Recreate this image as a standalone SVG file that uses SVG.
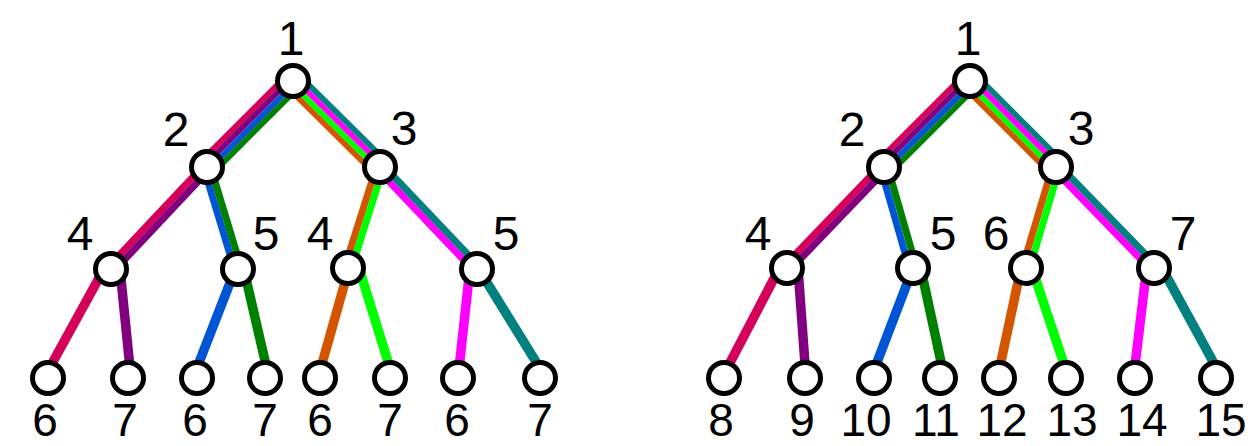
<svg xmlns="http://www.w3.org/2000/svg" width="1248" height="446" viewBox="0 0 1248 446">
<style>
.b4{stroke-width:5.6;fill:none}
.b2{stroke-width:7;fill:none}
.lf{stroke-width:9.5;fill:none}
.pk{stroke:#d4005a}.pu{stroke:#800080}.bl{stroke:#0055d4}.gr{stroke:#008000}
.or{stroke:#d45500}.li{stroke:#00ff00}.mg{stroke:#ff00ff}.te{stroke:#008080}
.nd circle{fill:#fff;stroke:#000;stroke-width:5}
text{font-family:"Liberation Sans",Arial,sans-serif;font-size:48px;fill:#000;text-anchor:middle}
text.lv{font-size:46px}
</style>
<g id="connectors">
<!-- left tree -->
<line class="b4 pk" x1="287.1" y1="75.1" x2="201.1" y2="161.1"/>
<line class="b4 pu" x1="291" y1="79" x2="205" y2="165"/>
<line class="b4 bl" x1="295" y1="83" x2="209" y2="169"/>
<line class="b4 gr" x1="298.9" y1="86.9" x2="212.9" y2="172.9"/>
<line class="b4 or" x1="287.1" y1="86.9" x2="374.1" y2="172.9"/>
<line class="b4 li" x1="291" y1="83" x2="378" y2="169"/>
<line class="b4 mg" x1="295" y1="79" x2="382" y2="165"/>
<line class="b4 te" x1="298.9" y1="75.1" x2="385.9" y2="161.1"/>
<line class="b2 pk" x1="204.5" y1="164.6" x2="108.5" y2="266.6"/>
<line class="b2 pu" x1="209.5" y1="169.4" x2="113.5" y2="271.4"/>
<line class="b2 bl" x1="203.7" y1="168" x2="234.7" y2="270"/>
<line class="b2 gr" x1="210.3" y1="166" x2="241.3" y2="268"/>
<line class="b2 or" x1="376.7" y1="166" x2="344.7" y2="267"/>
<line class="b2 li" x1="383.3" y1="168" x2="351.3" y2="269"/>
<line class="b2 mg" x1="377.5" y1="169.4" x2="474.5" y2="271.4"/>
<line class="b2 te" x1="382.5" y1="164.6" x2="479.5" y2="266.6"/>
<line class="lf pk" x1="104" y1="269" x2="44" y2="378"/>
<line class="lf pu" x1="120" y1="269" x2="131" y2="378"/>
<line class="lf bl" x1="235" y1="270" x2="193" y2="378"/>
<line class="lf gr" x1="244" y1="270" x2="269" y2="378"/>
<line class="lf or" x1="349" y1="268" x2="318" y2="378"/>
<line class="lf li" x1="359" y1="268" x2="393" y2="378"/>
<line class="lf mg" x1="470" y1="268" x2="458" y2="378"/>
<line class="lf te" x1="478" y1="268" x2="546" y2="378"/>
<!-- right tree -->
<line class="b4 pk" x1="964.1" y1="75.1" x2="878.1" y2="161.1"/>
<line class="b4 pu" x1="968" y1="79" x2="882" y2="165"/>
<line class="b4 bl" x1="972" y1="83" x2="886" y2="169"/>
<line class="b4 gr" x1="975.9" y1="86.9" x2="889.9" y2="172.9"/>
<line class="b4 or" x1="964.1" y1="86.9" x2="1050.1" y2="172.9"/>
<line class="b4 li" x1="968" y1="83" x2="1054" y2="169"/>
<line class="b4 mg" x1="972" y1="79" x2="1058" y2="165"/>
<line class="b4 te" x1="975.9" y1="75.1" x2="1061.9" y2="161.1"/>
<line class="b2 pk" x1="881.5" y1="164.6" x2="784.5" y2="265.6"/>
<line class="b2 pu" x1="886.5" y1="169.4" x2="789.5" y2="270.4"/>
<line class="b2 bl" x1="880.6" y1="168" x2="909.6" y2="269"/>
<line class="b2 gr" x1="887.4" y1="166" x2="916.4" y2="267"/>
<line class="b2 or" x1="1052.6" y1="166" x2="1022.6" y2="267"/>
<line class="b2 li" x1="1059.4" y1="168" x2="1029.4" y2="269"/>
<line class="b2 mg" x1="1053.5" y1="169.4" x2="1151.5" y2="270.4"/>
<line class="b2 te" x1="1058.5" y1="164.6" x2="1156.5" y2="265.6"/>
<line class="lf pk" x1="779.5" y1="268" x2="722" y2="378"/>
<line class="lf pu" x1="798" y1="268" x2="806" y2="378"/>
<line class="lf bl" x1="913" y1="268" x2="871" y2="378"/>
<line class="lf gr" x1="920.7" y1="268" x2="944.5" y2="378"/>
<line class="lf or" x1="1021" y1="268" x2="997.5" y2="378"/>
<line class="lf li" x1="1032" y1="268" x2="1068.6" y2="378"/>
<line class="lf mg" x1="1146.7" y1="268" x2="1133.5" y2="378"/>
<line class="lf te" x1="1162" y1="268" x2="1222" y2="378"/>
</g>
<g id="L1" class="nd"><circle cx="293" cy="81" r="15.5"/><text x="291" y="55">1</text></g>
<g id="L2" class="nd"><circle cx="207" cy="167" r="15.5"/><text x="176" y="146">2</text></g>
<g id="L3" class="nd"><circle cx="380" cy="167" r="15.5"/><text x="404" y="145">3</text></g>
<g id="L4a" class="nd"><circle cx="111" cy="269" r="15.5"/><text x="80" y="250">4</text></g>
<g id="L5a" class="nd"><circle cx="238" cy="269" r="15.5"/><text x="266" y="250">5</text></g>
<g id="L4b" class="nd"><circle cx="348" cy="268" r="15.5"/><text x="320" y="250">4</text></g>
<g id="L5b" class="nd"><circle cx="477" cy="269" r="15.5"/><text x="506" y="250">5</text></g>
<g id="L6a" class="nd"><circle cx="48" cy="378" r="15.5"/><text class="lv" x="45" y="436">6</text></g>
<g id="L7a" class="nd"><circle cx="128" cy="378" r="15.5"/><text class="lv" x="125" y="436">7</text></g>
<g id="L6b" class="nd"><circle cx="197" cy="378" r="15.5"/><text class="lv" x="195" y="436">6</text></g>
<g id="L7b" class="nd"><circle cx="265" cy="378" r="15.5"/><text class="lv" x="265" y="436">7</text></g>
<g id="L6c" class="nd"><circle cx="320" cy="378" r="15.5"/><text class="lv" x="320" y="436">6</text></g>
<g id="L7c" class="nd"><circle cx="390" cy="378" r="15.5"/><text class="lv" x="390" y="436">7</text></g>
<g id="L6d" class="nd"><circle cx="458" cy="378" r="15.5"/><text class="lv" x="457" y="436">6</text></g>
<g id="L7d" class="nd"><circle cx="540" cy="378" r="15.5"/><text class="lv" x="540" y="436">7</text></g>
<g id="R1" class="nd"><circle cx="970" cy="81" r="15.5"/><text x="968" y="55">1</text></g>
<g id="R2" class="nd"><circle cx="884" cy="167" r="15.5"/><text x="852" y="146">2</text></g>
<g id="R3" class="nd"><circle cx="1056" cy="167" r="15.5"/><text x="1081" y="145">3</text></g>
<g id="R4" class="nd"><circle cx="787" cy="268" r="15.5"/><text x="758" y="250">4</text></g>
<g id="R5" class="nd"><circle cx="913" cy="268" r="15.5"/><text x="943" y="250">5</text></g>
<g id="R6" class="nd"><circle cx="1026" cy="268" r="15.5"/><text x="996" y="250">6</text></g>
<g id="R7" class="nd"><circle cx="1154" cy="268" r="15.5"/><text x="1183" y="250">7</text></g>
<g id="R8" class="nd"><circle cx="724" cy="378" r="15.5"/><text class="lv" x="721" y="436">8</text></g>
<g id="R9" class="nd"><circle cx="805" cy="378" r="15.5"/><text class="lv" x="802" y="436">9</text></g>
<g id="R10" class="nd"><circle cx="874" cy="378" r="15.5"/><text class="lv" x="866" y="436">10</text></g>
<g id="R11" class="nd"><circle cx="940" cy="378" r="15.5"/><text class="lv" x="936" y="436">11</text></g>
<g id="R12" class="nd"><circle cx="999" cy="378" r="15.5"/><text class="lv" x="1002" y="436">12</text></g>
<g id="R13" class="nd"><circle cx="1066" cy="378" r="15.5"/><text class="lv" x="1072" y="436">13</text></g>
<g id="R14" class="nd"><circle cx="1135" cy="378" r="15.5"/><text class="lv" x="1142" y="436">14</text></g>
<g id="R15" class="nd"><circle cx="1216" cy="378" r="15.5"/><text class="lv" x="1221" y="436">15</text></g>
</svg>
